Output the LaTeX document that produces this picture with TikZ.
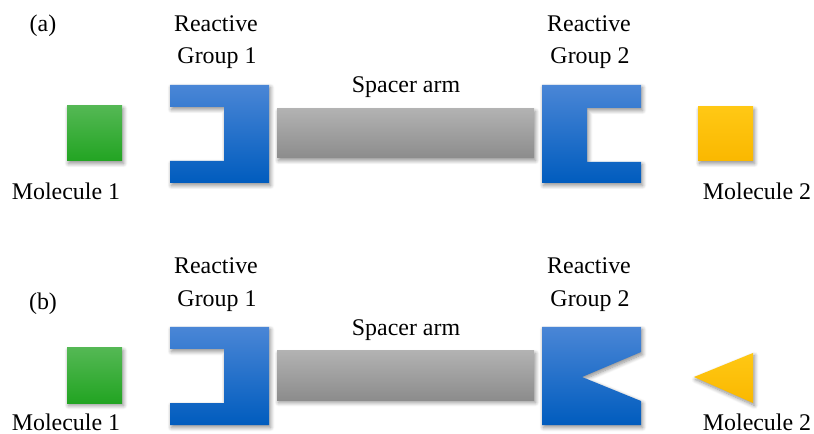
\documentclass[tikz,border=0pt]{standalone}
\usepackage{fontspec}
\setmainfont{Liberation Serif}
\usetikzlibrary{shadows.blur}
\definecolor{blueTop}{RGB}{74,134,214}
\definecolor{blueMid}{RGB}{0,102,204}
\definecolor{blueBot}{RGB}{0,92,190}
\definecolor{greenTop}{RGB}{84,184,84}
\definecolor{greenBot}{RGB}{34,164,34}
\definecolor{orangeTop}{RGB}{255,200,20}
\definecolor{orangeBot}{RGB}{250,184,0}
\definecolor{grayTop}{RGB}{178,178,178}
\definecolor{grayBot}{RGB}{140,140,140}
\tikzset{
  shadowed/.style={blur shadow={shadow xshift=1.5bp, shadow yshift=-2.5bp, shadow blur steps=8, shadow blur radius=4bp, shadow opacity=45}},
  bluegroup/.style={shadowed, top color=blueTop, middle color=blueMid, bottom color=blueBot},
  greenmol/.style={shadowed, top color=greenTop, bottom color=greenBot},
  orangemol/.style={shadowed, top color=orangeTop, bottom color=orangeBot},
  spacer/.style={shadowed, top color=grayTop, bottom color=grayBot},
  lbl/.style={inner sep=0pt, anchor=base, font=\fontsize{24}{26}\selectfont, align=center},
}
\begin{document}
\begin{tikzpicture}[x=1bp,y=-1bp]
\useasboundingbox (0,0) rectangle (814,434);
% ---------- (a) ----------
\node[lbl] (la) at (43,32) {(a)};
\node[lbl] (r1a) at (216,32) {Reactive};
\node[lbl] (g1a) at (217,64) {Group 1};
\node[lbl] (r2a) at (589,32) {Reactive};
\node[lbl] (g2a) at (590,64) {Group 2};
\node[lbl] (spa) at (406,93) {Spacer arm};
\node[lbl] (m1a) at (66,200) {Molecule 1};
\node[lbl] (m2a) at (757,200) {Molecule 2};
\path[greenmol] (67,106) rectangle (122,161);
\path[orangemol] (698,107) rectangle (753,161);
\path[spacer] (277,109) rectangle (534,158);
\path[bluegroup] (170,85) -- (269,85) -- (269,183) -- (170,183) -- (170,161) -- (224,161) -- (224,107) -- (170,107) -- cycle;
\path[bluegroup] (542,85) -- (641,85) -- (641,108) -- (587,108) -- (587,162) -- (641,162) -- (641,183) -- (542,183) -- cycle;
% ---------- (b) ----------
\node[lbl] (lb) at (43,310) {(b)};
\node[lbl] (r1b) at (216,274) {Reactive};
\node[lbl] (g1b) at (217,307) {Group 1};
\node[lbl] (r2b) at (589,274) {Reactive};
\node[lbl] (g2b) at (590,307) {Group 2};
\node[lbl] (spb) at (406,336) {Spacer arm};
\node[lbl] (m1b) at (66,430) {Molecule 1};
\node[lbl] (m2b) at (757,430) {Molecule 2};
\path[greenmol] (67,348) rectangle (122,403);
\path[orangemol] (694,377) -- (753,353) -- (753,403) -- cycle;
\path[spacer] (277,351) rectangle (534,400);
\path[bluegroup] (170,327) -- (269,327) -- (269,425) -- (170,425) -- (170,403) -- (224,403) -- (224,349) -- (170,349) -- cycle;
\path[bluegroup] (542,327) -- (641,327) -- (641,352) -- (582,377) -- (641,401) -- (641,425) -- (542,425) -- cycle;
\end{tikzpicture}
\end{document}
